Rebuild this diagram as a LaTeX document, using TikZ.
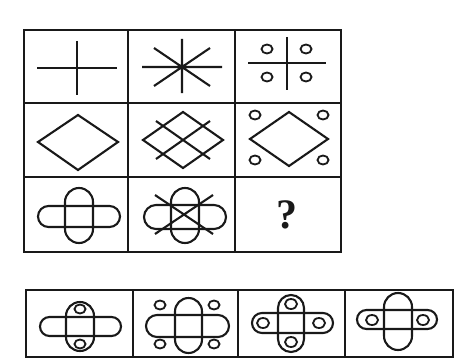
\documentclass[tikz,border=0pt]{standalone}
\usepackage{tikz}
\usepackage{fontspec}
\setmainfont{Liberation Serif}
\definecolor{inkblack}{RGB}{25,25,25}

\begin{document}
\begin{tikzpicture}[x=1pt,y=-1pt,
  frame/.style={line width=2.6pt, inkblack},
  figline/.style={line width=2.1pt, inkblack},
  ring/.style={line width=1.8pt, inkblack}]
\useasboundingbox (0,0) rectangle (462,361);
% question grid, 3 x 3
\draw[frame] (24,30) rectangle (341,252);
\foreach \x in {128,235} \draw[frame] (\x,30) -- (\x,252);
\foreach \y in {103,177} \draw[frame] (24,\y) -- (341,\y);
% row 1: cross, star, cross with circles
\draw[figline] (37,68) -- (117,68) (77,41) -- (77,95);
\draw[figline] (142,67) -- (222,67) (182,39) -- (182,93) (154,48) -- (210,86) (154,86) -- (210,48);
\draw[figline] (248,63) -- (326,63) (287,37) -- (287,90);
\foreach \x in {267,306} \foreach \y in {49,77} \draw[ring] (\x,\y) ellipse (5.5 and 4.5);
% row 2: diamond, lattice, diamond with circles
\draw[figline] (38,142) -- (78,115) -- (118,142) -- (78,170) -- cycle;
\draw[figline] (143,140) -- (183,112) -- (223,140) -- (183,168) -- cycle;
\draw[figline] (156,159) -- (210,121) (156,121) -- (210,159);
\draw[figline] (250,139) -- (289,112) -- (328,139) -- (289,166) -- cycle;
\foreach \x in {255,323} \foreach \y in {115,160} \draw[ring] (\x,\y) ellipse (5.5 and 4.5);
% row 3: capsules, capsules with X, question
\draw[figline, rounded corners=14pt] (65,188) rectangle (93,243);
\draw[figline, rounded corners=10.5pt] (38,206) rectangle (120,227);
\draw[figline, rounded corners=14pt] (171,188) rectangle (199,243);
\draw[figline, rounded corners=12pt] (144,205) rectangle (226,229);
\draw[figline] (155,195) -- (213,234) (213,195) -- (155,234);
\node[scale=4.2, font=\bfseries, inkblack] (quest) at (287,215) {?};
% answer row, 4 options
\draw[frame] (26,290) rectangle (453,357);
\foreach \x in {133,238,345} \draw[frame] (\x,290) -- (\x,357);
% option A
\draw[figline, rounded corners=14pt] (66,302) rectangle (94,351);
\draw[figline, rounded corners=9.5pt] (40,317) rectangle (121,336);
\foreach \y in {309,344} \draw[ring] (80,\y) ellipse (5.5 and 4.5);
% option B
\draw[figline, rounded corners=13.5pt] (175,298) rectangle (202,353);
\draw[figline, rounded corners=11pt] (146,315) rectangle (229,337);
\foreach \x in {160,214} \foreach \y in {305,344} \draw[ring] (\x,\y) ellipse (5.5 and 4.5);
% option C
\draw[figline, rounded corners=13pt] (278,295) rectangle (304,352);
\draw[figline, rounded corners=10pt] (252,313) rectangle (333,333);
\foreach \p in {(291,304),(291,342),(263,323),(319,323)} \draw[ring] \p ellipse (6 and 5);
% option D
\draw[figline, rounded corners=14pt] (384,293) rectangle (412,350);
\draw[figline, rounded corners=9.5pt] (357,310) rectangle (437,329);
\foreach \x in {372,423} \draw[ring] (\x,320) ellipse (6 and 5);
\end{tikzpicture}
\end{document}
